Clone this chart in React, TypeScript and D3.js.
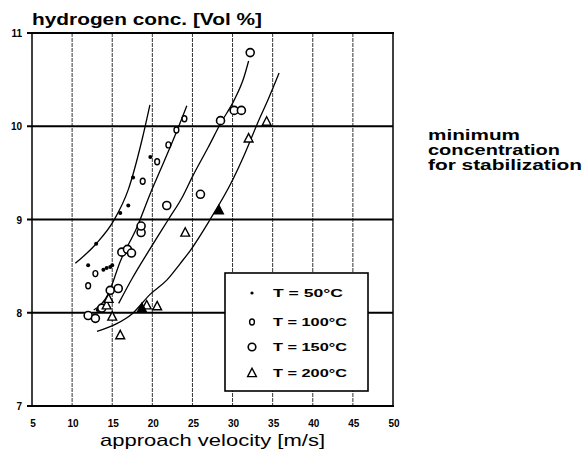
import React from 'react'
import * as d3 from 'd3'

// approach velocity [m/s] / hydrogen conc. [Vol %]
const xTicks = [5, 10, 15, 20, 25, 30, 35, 40, 45, 50]
const yTicks = [7, 8, 9, 10, 11]
const gridY = [8, 9, 10]

const seriesLabels = ['T = 50°C', 'T = 100°C', 'T = 150°C', 'T = 200°C']

const pts50 = [
    [12.0, 8.51], [13.0, 8.74], [13.9, 8.46], [14.3, 8.48], [14.75, 8.49], [15.0, 8.51],
    [13.2, 8.03], [16.0, 9.07], [17.0, 9.15], [17.6, 9.45], [19.75, 9.67]
]
const pts100 = [
    [12.0, 8.29], [12.9, 8.42], [18.8, 9.41], [20.6, 9.62], [22.0, 9.80], [23.0, 9.96], [24.0, 10.08]
]
const pts150 = [
    [12.0, 7.97], [12.9, 7.94], [13.7, 8.05], [14.75, 8.24], [15.75, 8.26],
    [16.2, 8.65], [16.9, 8.68], [17.4, 8.64], [18.6, 8.86], [18.6, 8.93],
    [21.8, 9.15], [26.0, 9.27], [28.5, 10.06], [30.2, 10.17], [31.1, 10.17], [32.2, 10.79]
]
const pts200 = [
    [14.3, 8.08], [14.55, 8.15], [15.0, 7.96], [16.0, 7.76], [19.3, 8.08], [20.6, 8.07],
    [24.1, 8.86], [32.0, 9.87], [34.25, 10.05]
]
const pts200filled = [[18.7, 8.05], [28.3, 9.1]]

// fitted curves
const curve50 = [[10.4, 8.53], [13.0, 8.74], [15.2, 8.99], [17.0, 9.32], [18.7, 9.85], [19.7, 10.23]]
const curve100 = [[12.7, 8.03], [14.5, 8.2], [16.0, 8.55], [18.1, 8.92], [19.75, 9.28], [21.0, 9.53], [23.3, 10.0], [24.3, 10.22]]
const curve150 = [[15.8, 8.1], [17.5, 8.37], [19.75, 8.69], [22.0, 9.0], [23.8, 9.25], [25.0, 9.46], [27.0, 9.78], [28.5, 10.03], [30.2, 10.28], [31.4, 10.52], [32.0, 10.7]]
const curve200 = [[13.1, 7.8], [15.5, 7.88], [17.5, 7.99], [19.75, 8.2], [21.8, 8.35], [23.5, 8.53], [24.75, 8.67], [27.2, 9.0], [29.75, 9.38], [31.5, 9.7], [33.1, 10.03], [34.5, 10.3], [35.8, 10.57]]

const font = '"Liberation Sans", Arial, sans-serif'

const tri = (cx: number, cy: number, s: number) =>
    `M${cx},${cy - s * 0.6}L${cx + s * 0.55},${cy + s * 0.45}L${cx - s * 0.55},${cy + s * 0.45}Z`

export default function App() {
    const width = 584
    const height = 467
    const x = d3.scaleLinear().domain([5, 50]).range([32, 393])
    const y = d3.scaleLinear().domain([7, 11]).range([406, 33])

    const line = d3.line<number[]>()
        .x((d) => x(d[0]))
        .y((d) => y(d[1]))
        .curve(d3.curveMonotoneX)

    const legendX = 225
    const legendY = 273
    const rows = [293, 322, 347, 373]

    return (
        <svg width={width} height={height} style={{ position: 'absolute', left: 0, top: 0, background: '#fff' }}>
            {/* vertical grid */}
            {xTicks.slice(1, -1).map((t) => (
                <line key={'vx' + t} x1={x(t)} x2={x(t)} y1={y(11)} y2={y(7)}
                    stroke="#333" strokeWidth={1} strokeDasharray="4,1" />
            ))}
            {/* horizontal grid */}
            {gridY.map((t) => (
                <line key={'hy' + t} x1={27} x2={x(50)} y1={y(t)} y2={y(t)} stroke="#000" strokeWidth={2.2} />
            ))}
            {/* frame */}
            <line x1={27} x2={x(50) + 1} y1={y(11)} y2={y(11)} stroke="#000" strokeWidth={1.8} />
            <line x1={27} x2={x(50) + 1} y1={y(7)} y2={y(7)} stroke="#000" strokeWidth={1.8} />
            <line x1={x(5)} x2={x(5)} y1={y(11)} y2={y(7)} stroke="#000" strokeWidth={1.5} />
            <line x1={x(50)} x2={x(50)} y1={y(11)} y2={y(7)} stroke="#000" strokeWidth={1.5} />

            {/* y tick labels */}
            {yTicks.map((t) => (
                <text key={'yt' + t} x={22} y={y(t) + 4} textAnchor="end" fontFamily={font}
                    fontWeight="bold" fontSize={10}>{t}</text>
            ))}
            {/* x tick labels */}
            {xTicks.map((t) => (
                <text key={'xt' + t} x={x(t) + 1} y={427} textAnchor="middle" fontFamily={font}
                    fontWeight="bold" fontSize={10}>{t}</text>
            ))}

            {/* curves */}
            {[curve50, curve100, curve150, curve200].map((c, i) => (
                <path key={'c' + i} d={line(c) || ''} fill="none" stroke="#000" strokeWidth={1.3} />
            ))}

            {/* points */}
            {pts50.map((p, i) => (
                <circle key={'a' + i} cx={x(p[0])} cy={y(p[1])} r={2} fill="#000" />
            ))}
            {pts100.map((p, i) => (
                <ellipse key={'b' + i} cx={x(p[0])} cy={y(p[1])} rx={2.4} ry={3} fill="#fff" stroke="#000" strokeWidth={1.4} />
            ))}
            {pts150.map((p, i) => (
                <circle key={'c' + i} cx={x(p[0])} cy={y(p[1])} r={4} fill="#fff" stroke="#000" strokeWidth={1.6} />
            ))}
            {pts200.map((p, i) => (
                <path key={'d' + i} d={tri(x(p[0]), y(p[1]), 8)} fill="#fff" stroke="#000" strokeWidth={1.4} />
            ))}
            {pts200filled.map((p, i) => (
                <path key={'e' + i} d={tri(x(p[0]), y(p[1]), 8)} fill="#000" stroke="#000" strokeWidth={1.4} />
            ))}

            {/* legend */}
            <rect x={legendX} y={legendY} width={143} height={118} fill="#fff" stroke="#000" strokeWidth={1.6} />
            <circle cx={252} cy={rows[0]} r={1.6} fill="#000" />
            <ellipse cx={252} cy={rows[1]} rx={2.4} ry={3} fill="#fff" stroke="#000" strokeWidth={1.4} />
            <circle cx={252} cy={rows[2]} r={3.8} fill="#fff" stroke="#000" strokeWidth={1.6} />
            <path d={tri(252, rows[3], 8)} fill="#fff" stroke="#000" strokeWidth={1.4} />
            {seriesLabels.map((s, i) => (
                <text key={'l' + i} x={273} y={rows[i] + 4} fontFamily={font} fontWeight="bold" fontSize={10}
                    textLength={i === 0 ? 70 : 74} lengthAdjust="spacingAndGlyphs">{s}</text>
            ))}

            {/* titles */}
            <text x={32} y={25} fontFamily={font} fontWeight="bold" fontSize={17}
                textLength={230} lengthAdjust="spacingAndGlyphs">hydrogen conc. [Vol %]</text>
            <text x={100} y={446} fontFamily={font} fontSize={17}
                textLength={225} lengthAdjust="spacingAndGlyphs">approach velocity [m/s]</text>

            <text x={428} y={140} fontFamily={font} fontWeight="bold" fontSize={14}
                textLength={92} lengthAdjust="spacingAndGlyphs">minimum</text>
            <text x={428} y={155} fontFamily={font} fontWeight="bold" fontSize={14}
                textLength={132} lengthAdjust="spacingAndGlyphs">concentration</text>
            <text x={428} y={170} fontFamily={font} fontWeight="bold" fontSize={14}
                textLength={154} lengthAdjust="spacingAndGlyphs">for stabilization</text>
        </svg>
    )
}
